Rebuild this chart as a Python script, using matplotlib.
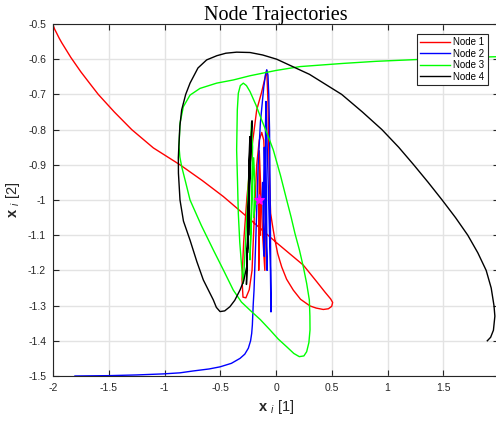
import matplotlib
matplotlib.use("Agg")
import matplotlib.pyplot as plt

# ---- data ----
node1_x = [-2.0, -1.997, -1.985, -1.967, -1.945, -1.922, -1.877, -1.84, -1.75, -1.67,
           -1.594, -1.45, -1.294, -1.1, -0.861, -0.66, -0.473, -0.233, 0.0, 0.245, 0.365,
           0.44, 0.49, 0.508, 0.5, 0.47, 0.424, 0.36, 0.305, 0.22, 0.155, 0.095, 0.051,
           0.015, -0.009, -0.03, -0.048, -0.058, -0.065, -0.072, -0.083, -0.1, -0.13,
           -0.173, -0.22, -0.26, -0.29, -0.305, -0.296, -0.27, -0.24, -0.215, -0.195,
           -0.173, -0.15, -0.128, -0.11, -0.099, -0.095, -0.1, -0.12, -0.15, -0.155,
           -0.145, -0.14, -0.15]
node1_y = [-0.5, -0.505, -0.515, -0.526, -0.54, -0.553, -0.576, -0.595, -0.636, -0.669,
           -0.7, -0.75, -0.8, -0.852, -0.9, -0.945, -0.99, -1.055, -1.12, -1.185,
           -1.232, -1.262, -1.281, -1.291, -1.302, -1.309, -1.311, -1.307, -1.301, -1.282,
           -1.256, -1.225, -1.19, -1.152, -1.114, -1.075, -1.038, -0.95, -0.85, -0.72,
           -0.632, -0.655, -0.695, -0.744, -0.86, -0.99, -1.12, -1.225, -1.276, -1.278,
           -1.255, -1.2, -1.05, -0.9, -0.83, -0.808, -0.83, -0.9, -1.05, -1.2, -1.1,
           -0.86, -1.2, -0.95, -1.1, -1.0]

node2_x = [-1.803, -1.5, -1.25, -1.01, -0.861, -0.75, -0.6, -0.502, -0.4, -0.323, -0.28,
           -0.248, -0.228, -0.218, -0.212, -0.209, -0.204, -0.197, -0.18, -0.16, -0.14,
           -0.11, -0.095, -0.083, -0.072, -0.065, -0.058, -0.052, -0.047, -0.045, -0.05,
           -0.07, -0.09, -0.095, -0.085, -0.08, -0.09, -0.105, -0.11, -0.105, -0.115,
           -0.12, -0.125]
node2_y = [-1.5, -1.499, -1.497, -1.494, -1.491, -1.486, -1.48, -1.474, -1.464, -1.45,
           -1.438, -1.421, -1.4, -1.379, -1.355, -1.332, -1.295, -1.256, -1.1, -0.9,
           -0.78, -0.68, -0.645, -0.63, -0.645, -0.7, -0.8, -1.0, -1.2, -1.318, -1.2,
           -0.95, -0.72, -0.8, -1.0, -1.2, -1.1, -0.85, -0.95, -1.16, -1.05, -0.95, -1.0]

node3_x = [1.97, 1.6, 1.26, 0.9, 0.6, 0.215, 0.0, -0.233, -0.383, -0.532, -0.682, -0.771,
           -0.831, -0.861, -0.87, -0.862, -0.846, -0.81, -0.771, -0.67, -0.562, -0.47,
           -0.383, -0.31, -0.233, -0.14, -0.054, 0.02, 0.096, 0.16, 0.209, 0.25, 0.275,
           0.295, 0.305, 0.304, 0.299, 0.275, 0.245, 0.21, 0.17, 0.135, 0.096, 0.04,
           -0.024, -0.075, -0.128, -0.18, -0.233, -0.265, -0.293, -0.32, -0.338, -0.347,
           -0.353, -0.345, -0.338, -0.325, -0.308, -0.293, -0.27, -0.24, -0.22, -0.21,
           -0.22, -0.233, -0.22, -0.20, -0.19, -0.20, -0.18]
node3_y = [-0.593, -0.596, -0.601, -0.606, -0.612, -0.621, -0.632, -0.647, -0.659, -0.668,
           -0.683, -0.702, -0.735, -0.782, -0.848, -0.878, -0.905, -0.95, -1.0, -1.072,
           -1.142, -1.2, -1.256, -1.29, -1.313, -1.34, -1.369, -1.395, -1.417, -1.436,
           -1.445, -1.443, -1.431, -1.405, -1.369, -1.33, -1.284, -1.237, -1.19, -1.142,
           -1.095, -1.048, -1.0, -0.93, -0.858, -0.815, -0.773, -0.73, -0.692, -0.675,
           -0.668, -0.675, -0.697, -0.744, -0.858, -0.95, -1.038, -1.12, -1.19, -1.237,
           -1.1, -0.9, -0.78, -0.85, -1.0, -1.17, -1.05, -0.88, -0.95, -1.05, -1.0]

node4_x = [1.895, 1.925, 1.95, 1.963, 1.955, 1.93, 1.885, 1.81, 1.72, 1.61, 1.49, 1.365,
           1.235, 1.1, 0.95, 0.775, 0.589, 0.3, 0.006, -0.12, -0.233, -0.353, -0.45,
           -0.53, -0.622, -0.7, -0.771, -0.81, -0.846, -0.862, -0.87, -0.876, -0.875,
           -0.861, -0.83, -0.771, -0.71, -0.652, -0.6, -0.562, -0.535, -0.502, -0.46,
           -0.413, -0.37, -0.323, -0.29, -0.263, -0.245, -0.23, -0.215, -0.225, -0.245,
           -0.265, -0.25, -0.235, -0.24, -0.255, -0.245, -0.235, -0.245, -0.24]
node4_y = [-1.40, -1.39, -1.37, -1.33, -1.3, -1.25, -1.2, -1.15, -1.1, -1.05, -1.0, -0.95,
           -0.9, -0.85, -0.8, -0.75, -0.7, -0.643, -0.6, -0.588, -0.581, -0.58, -0.583,
           -0.59, -0.602, -0.625, -0.668, -0.70, -0.744, -0.79, -0.839, -0.88, -0.924,
           -1.0, -1.06, -1.114, -1.175, -1.227, -1.26, -1.284, -1.305, -1.317, -1.315,
           -1.303, -1.285, -1.256, -1.23, -1.19, -1.05, -0.9, -0.775, -0.85, -1.0, -1.24,
           -1.05, -0.82, -0.9, -1.15, -1.0, -0.85, -1.1, -1.0]

target_x = [-0.15]
target_y = [-1.0]

labels = ["Node 1", "Node 2", "Node 3", "Node 4"]
colors = ["#ff0000", "#0000ff", "#00ff00", "#000000"]

xticks = [-2, -1.5, -1, -0.5, 0, 0.5, 1, 1.5]
yticks = [-1.5, -1.4, -1.3, -1.2, -1.1, -1, -0.9, -0.8, -0.7, -0.6, -0.5]

# ---- figure ----
plt.rcParams['font.family'] = ['Liberation Sans', 'DejaVu Sans']
plt.rcParams['mathtext.fontset'] = 'custom'
plt.rcParams['mathtext.rm'] = 'Liberation Sans'
plt.rcParams['mathtext.bf'] = 'Liberation Sans:bold'
plt.rcParams['mathtext.it'] = 'Liberation Sans:italic'

fig = plt.figure(figsize=(4.96, 4.23), dpi=100)
ax = fig.add_axes([53/496, 1 - 376/423, (499 - 53)/496, 352/423])

series = [(node1_x, node1_y), (node2_x, node2_y), (node3_x, node3_y), (node4_x, node4_y)]
for (xs, ys), lab, c in zip(series, labels, colors):
    ax.plot(xs, ys, color=c, lw=1.0, label=lab)
ax.plot(target_x, target_y, marker='*', color='#ff00ff', ms=8, ls='none', mew=0.8)

ax.set_xlim(-2, 2)
ax.set_ylim(-1.5, -0.5)
ax.set_xticks(xticks)
ax.set_xticklabels([f"{v:g}" for v in xticks])
ax.set_yticks(yticks)
ax.set_yticklabels([f"{v:g}" for v in yticks])
ax.grid(True, color='#e3e3e3', lw=1.0)
ax.set_axisbelow(True)
ax.tick_params(direction='in', length=4, width=0.8, colors='#262626', labelsize=7.5,
               top=True, right=True)
ax.tick_params(axis='x', pad=5)
ax.tick_params(axis='y', pad=5)
for s in ['left', 'bottom', 'top', 'right']:
    ax.spines[s].set_color('#262626')
    ax.spines[s].set_linewidth(0.8)

ax.set_title("Node Trajectories", fontfamily='Liberation Serif', fontsize=14.5, pad=3)
ax.set_xlabel(r'$\mathbf{x}$ $_{i}$ [1]', fontsize=10.5, color='#262626', labelpad=4)
ax.set_ylabel(r'$\mathbf{x}$ $_{i}$ [2]', fontsize=10.5, color='#262626', labelpad=4)

leg = ax.legend(loc='upper right', fontsize=7,
                frameon=True, fancybox=False, edgecolor='#262626', framealpha=1,
                handlelength=3.0, borderpad=0.35, labelspacing=0.15, handletextpad=0.4,
                borderaxespad=0)
leg.get_frame().set_linewidth(0.8)
leg.set_bbox_to_anchor(((488 - 53) / (499 - 53), (376 - 34) / 352), transform=ax.transAxes)

fig.savefig("out.png", dpi=100)
